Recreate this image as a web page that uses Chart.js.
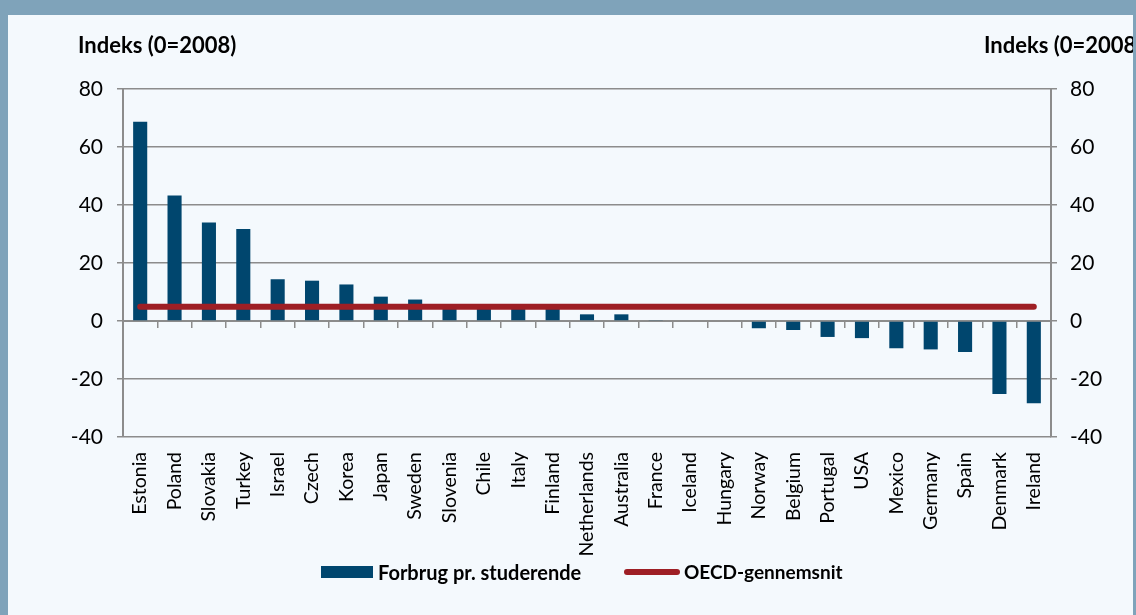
<!DOCTYPE html>
<html>
<head>
<meta charset="utf-8">
<script src="https://cdn.jsdelivr.net/npm/chart.js@4.4.0/dist/chart.umd.min.js"></script>
<style>
html,body{margin:0;padding:0;width:1136px;height:615px;overflow:hidden;background:#7fa3ba;font-family:Lato,"Open Sans",sans-serif;}
#panel{position:absolute;left:8px;top:15px;width:1125px;height:600px;background:#f4f9fd;overflow:hidden;}
#wrap{position:absolute;left:-8px;top:-15px;width:1136px;height:615px;}
canvas{position:absolute;left:0;top:0;}
.ttl{position:absolute;top:33px;font-weight:bold;font-size:22px;line-height:24px;color:#000;white-space:nowrap;}
.lg{position:absolute;font-weight:bold;font-size:20px;line-height:24px;color:#000;white-space:nowrap;top:560px;}
.sw{position:absolute;}
</style>
</head>
<body>
<div id="panel"><div id="wrap">
<canvas id="c" width="1136" height="615"></canvas>
<div class="ttl" style="left:78px;">Indeks (0=2008)</div>
<div class="ttl" style="left:984px;">Indeks (0=2008)</div>
<div class="sw" style="left:321px;top:566px;width:52px;height:12px;background:#00466e;"></div>
<div class="lg" style="left:378px;">Forbrug pr. studerende</div>
<div class="sw" style="left:624px;top:569px;width:56px;height:6px;border-radius:3px;background:#9e1f25;"></div>
<div class="lg" style="left:684px;font-size:19px;">OECD-gennemsnit</div>
</div></div>
<script>
const categories = ["Estonia","Poland","Slovakia","Turkey","Israel","Czech","Korea","Japan","Sweden","Slovenia","Chile","Italy","Finland","Netherlands","Australia","France","Iceland","Hungary","Norway","Belgium","Portugal","USA","Mexico","Germany","Spain","Denmark","Ireland"];
const spending = [68.7,43.3,34.0,31.7,14.4,13.9,12.6,8.4,7.4,5.5,5.3,5.2,5.0,2.3,2.3,0.2,0,0,-2.5,-3.1,-5.5,-5.9,-9.4,-9.8,-10.7,-25.2,-28.4];
const oecdAverage = [4.9,4.9,4.9,4.9,4.9,4.9,4.9,4.9,4.9,4.9,4.9,4.9,4.9,4.9,4.9,4.9,4.9,4.9,4.9,4.9,4.9,4.9,4.9,4.9,4.9,4.9,4.9];
const yMin = -40, yMax = 80, yStep = 20;

const gridColor = '#8c8c8c';
const tickFont = {family:'Lato', size:21};
const catFont = {family:'Lato', size:19.5};

function draw(){
  new Chart(document.getElementById('c'), {
    type:'bar',
    data:{
      labels:categories,
      datasets:[
        {type:'line', label:'OECD-gennemsnit', data:oecdAverage, borderColor:'#9e1f25', backgroundColor:'#9e1f25',
         borderWidth:6, borderCapStyle:'round', pointRadius:0, fill:false, order:0, xAxisID:'x', yAxisID:'y'},
        {type:'bar', label:'Forbrug pr. studerende', data:spending, backgroundColor:'#00466e',
         barPercentage:0.41, categoryPercentage:1, order:1, xAxisID:'x', yAxisID:'y'}
      ]
    },
    options:{
      responsive:false, animation:false,
      layout:{padding:{left:10, right:5, top:89, bottom:8}},
      plugins:{legend:{display:false}, tooltip:{enabled:false}},
      scales:{
        x:{type:'category', position:'bottom', grid:{display:false}, border:{display:false},
           ticks:{maxRotation:90, minRotation:90, autoSkip:false, padding:7, color:'#000', font:catFont},
           afterFit:s=>{s.height=170;}},
        x0:{type:'category', position:{y:0}, offset:true,
            grid:{offset:true, drawOnChartArea:false, drawTicks:true, tickLength:6, color:gridColor, lineWidth:1.5},
            border:{display:true, color:gridColor, width:2}, ticks:{display:false}},
        y:{type:'linear', position:'left', min:yMin, max:yMax,
           ticks:{stepSize:yStep, padding:14, color:'#000', font:tickFont},
           grid:{color:gridColor, lineWidth:1.5, tickLength:6},
           border:{color:gridColor, width:2},
           afterFit:s=>{s.width=113;}},
        y2:{type:'linear', position:'right', min:yMin, max:yMax,
           ticks:{stepSize:yStep, padding:13, color:'#000', font:tickFont},
           grid:{drawOnChartArea:false, color:gridColor, lineWidth:1.5, tickLength:6},
           border:{color:gridColor, width:2},
           afterFit:s=>{s.width=80;}}
      }
    }
  });
}
if (document.fonts && document.fonts.load) {
  Promise.all([document.fonts.load('21px Lato'), document.fonts.load('bold 20px Lato')]).then(draw, draw);
} else { draw(); }
</script>
</body>
</html>
